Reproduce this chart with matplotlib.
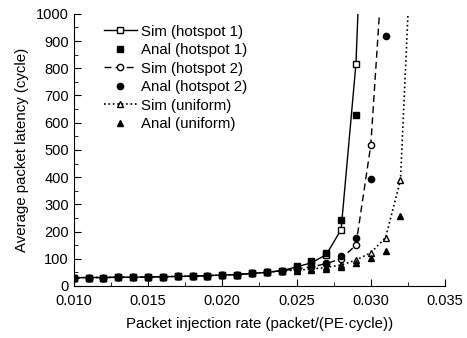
import matplotlib
matplotlib.use("Agg")
import matplotlib.pyplot as plt
import numpy as np

plt.rcParams['font.family'] = ['Liberation Sans', 'DejaVu Sans']

rate = [0.010, 0.011, 0.012, 0.013, 0.014, 0.015, 0.016, 0.017, 0.018, 0.019,
        0.020, 0.021, 0.022, 0.023, 0.024, 0.025, 0.026, 0.027, 0.028, 0.029,
        0.030, 0.031, 0.032, 0.033]

base = [30, 31, 31, 32, 32, 33, 34, 35, 36, 38, 40, 42, 46, 50, 56]

sim_h1 = base + [70, 85, 115, 207, 816, 2200]
anal_h1 = base + [72, 90, 120, 244, 629]
sim_h2 = base + [62, 70, 82, 100, 150, 518, 1350]
anal_h2 = base + [63, 72, 85, 110, 178, 392, 920]
sim_un = base + [58, 62, 68, 77, 95, 122, 178, 390, 1600]
anal_un = base + [56, 58, 62, 68, 83, 102, 130, 258]

fig = plt.figure(figsize=(4.67, 3.38), dpi=100)
ax = fig.add_axes([0.158, 0.154, 0.795, 0.805])

ms = 4.5
ax.plot(rate[:len(sim_h1)], sim_h1, '-', color='k', lw=1, marker='s', mfc='white', mec='k', ms=ms, label='Sim (hotspot 1)')
ax.plot(rate[:len(anal_h1)], anal_h1, ls='none', color='k', marker='s', ms=ms, label='Anal (hotspot 1)')
ax.plot(rate[:len(sim_h2)], sim_h2, '--', color='k', lw=1, dashes=(5, 3), marker='o', mfc='white', mec='k', ms=ms, label='Sim (hotspot 2)')
ax.plot(rate[:len(anal_h2)], anal_h2, ls='none', color='k', marker='o', ms=ms, label='Anal (hotspot 2)')
ax.plot(rate[:len(sim_un)], sim_un, ':', color='k', lw=1.2, marker='^', mfc='white', mec='k', ms=ms, label='Sim (uniform)')
ax.plot(rate[:len(anal_un)], anal_un, ls='none', color='k', marker='^', ms=ms, label='Anal (uniform)')

ax.set_xlim(0.010, 0.035)
ax.set_ylim(0, 1000)
ax.set_xticks(np.arange(0.010, 0.0351, 0.005))
ax.set_xticks(np.arange(0.010, 0.0351, 0.0025), minor=True)
ax.set_yticks(np.arange(0, 1001, 100))
ax.set_yticks(np.arange(0, 1001, 50), minor=True)
ax.xaxis.set_major_formatter(matplotlib.ticker.FormatStrFormatter('%.3f'))
ax.tick_params(which='both', direction='in', labelsize=10.5)
ax.tick_params(which='major', length=5)
ax.tick_params(which='minor', length=3)
ax.tick_params(axis='x', which='major', pad=6)
ax.spines['top'].set_visible(False)
ax.spines['right'].set_visible(False)

ax.set_xlabel('Packet injection rate (packet/(PE\u00b7cycle))', fontsize=10.8, labelpad=6)
ax.set_ylabel('Average packet latency (cycle)', fontsize=10.8, labelpad=5)

ax.legend(loc='upper left', bbox_to_anchor=(0.045, 1.01), frameon=False, fontsize=10.8,
          handlelength=2.2, labelspacing=0.3, handletextpad=0.3)

fig.savefig('out.png', dpi=100)
